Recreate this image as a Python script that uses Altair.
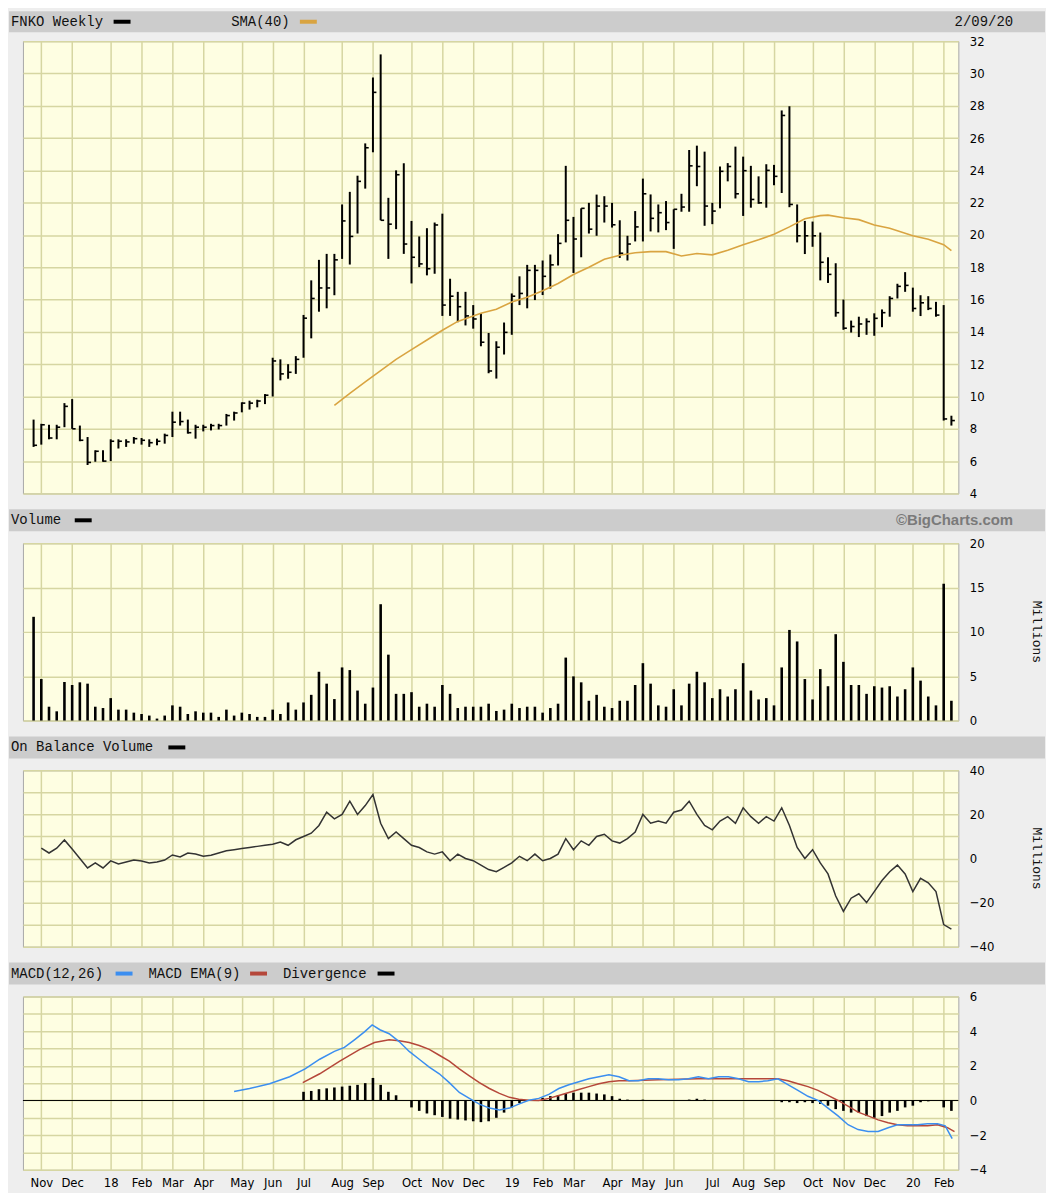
import altair as alt
import pandas as pd

# ---------------- data (weekly bars, index 0 = first week shown) ----------------
high = [8.57, 8.31, 8.25, 8.25, 9.59, 9.84, 8.20, 7.49, 6.67, 6.67,
        7.35, 7.35, 7.35, 7.49, 7.43, 7.35, 7.39, 7.70, 9.06, 9.06,
        8.57, 8.25, 8.25, 8.31, 8.31, 8.92, 9.06, 9.64, 9.74, 9.80,
        10.15, 12.4, 12.3, 12.0, 12.5, 15.05, 17.19, 18.46, 18.83, 18.83,
        21.89, 22.67, 23.67, 25.67, 29.75, 31.18, 22.30, 24.00, 24.44, 20.87,
        19.91, 20.42, 20.77, 21.32, 17.29, 16.48, 16.48, 15.66, 15.15, 13.93,
        13.42, 14.58, 16.38, 17.44, 18.15, 18.15, 18.42, 18.79, 20.05, 24.28,
        21.12, 21.65, 21.99, 22.50, 22.40, 21.99, 20.91, 19.95, 21.48, 23.49,
        22.51, 21.89, 22.10, 21.59, 22.55, 25.26, 25.53, 25.16, 21.99, 24.24,
        24.45, 25.47, 24.85, 24.28, 23.63, 24.38, 24.34, 27.71, 27.97, 21.89,
        20.87, 20.83, 20.15, 18.62, 18.25, 16.00, 14.70, 14.94, 14.84, 15.15,
        15.39, 16.21, 16.98, 17.70, 16.74, 16.27, 16.21, 15.86, 15.66, 8.81]
low = [6.88, 7.02, 7.35, 7.35, 8.10, 8.00, 7.23, 5.76, 5.96, 5.96,
       6.00, 6.78, 6.88, 7.08, 7.02, 6.88, 6.98, 7.08, 7.49, 8.20,
       7.70, 7.39, 7.84, 7.90, 7.96, 8.20, 8.51, 9.02, 9.19, 9.33,
       9.53, 10.0, 11.0, 11.1, 11.4, 12.4, 13.6, 15.25, 15.46, 16.27,
       18.52, 18.17, 20.09, 22.87, 25.12, 20.91, 18.52, 20.36, 18.83, 17.00,
       18.01, 17.50, 17.60, 14.99, 14.99, 14.60, 14.40, 14.20, 13.11, 11.44,
       11.11, 12.60, 13.82, 15.66, 15.46, 15.97, 16.28, 16.68, 18.11, 19.54,
       17.65, 18.62, 20.09, 19.95, 20.77, 20.46, 18.58, 18.42, 19.60, 19.60,
       20.22, 20.16, 20.30, 19.14, 21.44, 21.44, 23.02, 20.57, 20.67, 21.65,
       23.32, 22.26, 21.18, 21.69, 21.93, 21.69, 23.08, 22.60, 21.72, 19.54,
       18.82, 19.27, 17.19, 17.03, 14.94, 14.13, 13.96, 13.68, 13.82, 13.76,
       14.29, 14.94, 16.07, 16.48, 15.25, 14.98, 15.35, 14.94, 8.51, 8.20]
close = [6.98, 8.25, 7.43, 8.10, 9.39, 8.00, 7.29, 5.92, 6.61, 6.00,
         7.23, 7.23, 7.19, 7.39, 7.29, 7.14, 7.23, 7.59, 8.41, 8.45,
         7.76, 8.10, 8.10, 8.20, 8.20, 8.82, 8.98, 9.59, 9.59, 9.72,
         10.08, 12.2, 11.4, 11.5, 12.3, 14.85, 16.07, 16.72, 16.72, 18.46,
         20.87, 19.91, 23.32, 25.40, 28.83, 20.91, 20.67, 23.73, 19.44, 18.62,
         18.21, 17.91, 20.62, 15.66, 16.21, 15.56, 14.99, 14.80, 13.36, 11.58,
         13.05, 13.97, 16.21, 16.38, 17.81, 17.81, 17.44, 18.15, 19.48, 20.91,
         19.75, 21.65, 20.36, 21.79, 21.79, 20.63, 18.87, 19.44, 20.50, 22.55,
         21.03, 21.38, 20.77, 21.59, 21.73, 24.28, 24.24, 21.79, 21.48, 23.94,
         24.24, 22.55, 23.98, 22.20, 21.99, 24.00, 23.63, 27.40, 21.89, 19.95,
         19.95, 19.95, 18.31, 17.56, 15.19, 14.23, 14.33, 14.49, 14.64, 14.84,
         15.19, 16.07, 16.82, 16.88, 15.45, 15.80, 15.45, 15.04, 8.61, 8.51]
volume = [11.7, 4.68, 1.56, 1.04, 4.35, 4.01, 4.31, 4.16, 1.56, 1.41,
          2.53, 1.23, 1.23, 0.89, 0.74, 0.56, 0.22, 0.56, 1.71, 1.56,
          0.74, 1.04, 0.89, 0.89, 0.41, 1.23, 0.56, 0.89, 0.74, 0.41,
          0.41, 1.23, 0.74, 2.04, 1.23, 2.04, 2.90, 5.50, 4.16, 2.42,
          5.99, 5.69, 3.38, 1.90, 3.72, 13.12, 7.43, 3.01, 3.01, 3.20,
          1.56, 1.90, 1.56, 4.01, 3.01, 1.41, 1.56, 1.56, 1.56, 1.90,
          1.08, 1.23, 1.90, 1.41, 1.56, 1.56, 0.89, 1.41, 1.90, 7.10,
          4.98, 4.31, 2.23, 2.90, 1.56, 1.41, 2.23, 2.23, 4.01, 6.47,
          4.16, 1.71, 1.56, 3.53, 1.71, 4.16, 5.50, 4.31, 2.53, 3.53,
          2.71, 3.53, 6.47, 3.38, 2.38, 2.53, 1.71, 5.99, 10.22, 8.92,
          4.68, 2.38, 5.80, 3.87, 9.74, 6.62, 4.01, 4.01, 3.01, 3.87,
          3.72, 3.87, 2.71, 3.53, 5.99, 4.50, 2.71, 1.71, 15.43, 2.23]
# on balance volume (line starts at the second week)
obv_x = list(range(1, 120))
obv = [4.7, 2.5, 4.7, 8.4, 4.3, 0.0, -4.3, -2.0, -4.3, -1.1,
       -2.5, -1.6, -0.7, -1.1, -2.0, -1.6, -0.7, 1.6, 0.7, 2.5,
       2.0, 1.0, 1.5, 2.5, 3.5, 4.0, 4.5, 5.0, 5.5, 6.0,
       6.5, 7.5, 6.0, 8.5, 10, 11.5, 15, 21, 18, 20,
       26, 20, 24, 29, 16, 9, 12, 9, 6, 5,
       3, 2, 3, -1, 2, 0, -1, -3, -5, -6,
       -4, -2, 1, -1, 2, -1, 0, 2, 9, 4,
       8, 6, 10, 11, 8, 7, 9, 12, 20, 16,
       17, 16, 21, 22, 26, 20, 15, 13, 17, 19,
       16, 23, 19, 16, 19, 17, 23, 15, 5, 0,
       4, -2, -7, -17, -24, -18, -16, -20, -15, -10,
       -6, -3, -7, -15, -9, -11, -15, -30, -32]

sma_x = [39, 41, 43, 45, 47, 49, 51, 53, 55, 58, 60, 62, 64, 66, 68, 70, 72, 74, 76, 78,
         80, 82, 84, 86, 88, 90, 92, 94, 96, 98, 100, 102, 103, 105, 107, 109, 111, 114, 116, 118, 119]
sma_v = [9.45, 10.2, 10.9, 11.6, 12.3, 12.9, 13.5, 14.1, 14.65, 15.15, 15.4, 15.85, 16.15, 16.55,
         17.0, 17.55, 18.0, 18.5, 18.75, 18.9, 18.97, 18.97, 18.7, 18.85, 18.77, 19.05, 19.4, 19.7,
         20.05, 20.5, 21.0, 21.2, 21.23, 21.07, 20.95, 20.62, 20.42, 19.95, 19.74, 19.4, 19.03]

macd_x = [26, 28, 30.6, 33.2, 35.2, 37.1, 39, 40.3, 41.6, 42.9, 43.9, 44.9, 46.1, 47.4, 48.7, 50,
          51.3, 52.6, 53.9, 55.2, 56.5, 57.8, 59.1, 60.4, 61.7, 62.9, 64.2, 65.5, 66.8, 68.1, 69.4,
          70.7, 72, 73.3, 74.6, 75.9, 77.2, 78.4, 79.7, 81, 82.3, 83.6, 84.9, 86.2, 87.5, 88.8,
          90.1, 91.4, 92.7, 94, 95.2, 96.5, 97.8, 99.1, 100.4, 101.7, 103, 104.3, 105.6, 106.9,
          108.2, 109.5, 110.8, 112, 113.3, 114.6, 115.9, 117.2, 118.2, 119.1]
macd_v = [0.52, 0.69, 0.97, 1.37, 1.82, 2.38, 2.83, 3.06, 3.5, 3.96, 4.36, 4.08, 3.85, 3.4, 2.83,
          2.38, 1.93, 1.54, 1.03, 0.46, 0.12, -0.21, -0.44, -0.55, -0.44, -0.21, 0.01, 0.12, 0.35,
          0.69, 0.91, 1.08, 1.25, 1.37, 1.48, 1.37, 1.14, 1.14, 1.25, 1.25, 1.2, 1.2, 1.25, 1.37,
          1.25, 1.37, 1.37, 1.25, 1.08, 1.08, 1.14, 1.25, 0.91, 0.58, 0.24, 0.01, -0.44, -0.89,
          -1.4, -1.68, -1.79, -1.79, -1.57, -1.4, -1.4, -1.4, -1.34, -1.34, -1.46, -2.2]
ema_x = [34.9, 37.1, 39.7, 42.3, 44.2, 46.1, 47.4, 48.7, 50, 51.3, 52.6, 53.9, 55.2, 56.5, 57.8,
         59.1, 60.4, 61.7, 62.9, 64.2, 65.5, 66.8, 68.1, 69.4, 70.7, 72, 73.3, 74.6, 75.9, 77.2,
         81, 86.2, 91.4, 96.5, 97.8, 99.1, 100.4, 101.7, 103, 104.3, 105.6, 106.9, 108.2, 109.5,
         110.8, 112, 113.3, 114.6, 115.9, 117.2, 118.5, 119.4]
ema_v = [1.03, 1.54, 2.27, 2.95, 3.34, 3.5, 3.45, 3.34, 3.17, 2.95, 2.61, 2.27, 1.82, 1.42, 1.03,
         0.69, 0.41, 0.18, 0.07, 0.01, 0.0, 0.12, 0.29, 0.46, 0.63, 0.8, 0.97, 1.08, 1.14, 1.14,
         1.2, 1.25, 1.25, 1.25, 1.14, 0.97, 0.8, 0.58, 0.29, 0.0, -0.33, -0.67, -0.89, -1.12,
         -1.29, -1.4, -1.46, -1.46, -1.46, -1.4, -1.57, -1.8]
div_x = list(range(35, 120))
div_v = [0.5, 0.55, 0.65, 0.7, 0.75, 0.8, 0.85, 0.9, 1.0, 1.3, 0.9, 0.5, 0.3, 0.0, -0.4,
         -0.6, -0.75, -0.85, -0.95, -1.05, -1.1, -1.15, -1.2, -1.25, -1.2, -1.0, -0.7, -0.4, -0.15, 0.0,
         0.05, 0.15, 0.25, 0.3, 0.4, 0.45, 0.45, 0.45, 0.4, 0.35, 0.25, 0.1, 0.05, 0.0, 0.05,
         0.0, 0.0, 0.0, 0.0, 0.0, 0.05, 0.1, 0.05, 0.0, 0.0, 0.0, 0.0, 0.0, 0.0, 0.0,
         0.0, 0.0, -0.1, -0.1, -0.15, -0.1, -0.15, -0.2, -0.3, -0.5, -0.6, -0.7, -0.7, -0.9, -1.0,
         -0.9, -0.7, -0.6, -0.4, -0.3, -0.1, -0.05, 0.0, -0.4, -0.6]

month_x = [1, 5, 10, 14, 18, 22, 27, 31, 35, 40, 44, 49, 53, 57, 62, 66, 70, 75, 79, 83,
           88, 92, 96, 101, 105, 109, 114, 118]
month_lbl = ["Nov", "Dec", "18", "Feb", "Mar", "Apr", "May", "Jun", "Jul", "Aug", "Sep", "Oct",
             "Nov", "Dec", "19", "Feb", "Mar", "Apr", "May", "Jun", "Jul", "Aug", "Sep", "Oct",
             "Nov", "Dec", "20", "Feb"]

# ---------------- tables ----------------
n = len(close)
bars = pd.DataFrame({"i": list(range(n)), "high": high, "low": low, "close": close,
                     "vol": volume})
obvdf = pd.DataFrame({"i": obv_x, "v": obv})
sma = pd.DataFrame({"i": sma_x, "v": sma_v})
macd = pd.DataFrame({"i": macd_x, "v": macd_v})
ema = pd.DataFrame({"i": ema_x, "v": ema_v})
div = pd.DataFrame({"i": div_x, "v": div_v})
one = pd.DataFrame({"a": [0]})

W = 939
XDOM = [-1.38, 119.9]
GRID = "#d6d6a2"
LBL_FONT = "'Liberation Sans Narrow', 'DejaVu Sans Condensed', 'Liberation Sans', sans-serif"
HDR_FONT = "Liberation Mono"

lbl_arr = "[" + ",".join("'%s'" % s for s in month_lbl) + "]"
idx_arr = "[" + ",".join(str(v) for v in month_x) + "]"


def xenc(field="i", bottom=False):
    if bottom:
        ax = alt.Axis(values=month_x, tickCount=200, grid=True, gridColor=GRID, gridWidth=1.5,
                      ticks=False, domain=False, title=None, labelFont=LBL_FONT, labelFontSize=13,
                      labelColor="#000", labelPadding=7, labelAngle=0, labelOverlap=False,
                      labelBound=False, labelFlush=False,
                      labelExpr=lbl_arr + "[indexof(" + idx_arr + ", datum.value)]")
    else:
        ax = alt.Axis(values=month_x, tickCount=200, grid=True, gridColor=GRID, gridWidth=1.5,
                      labels=False, ticks=False, domain=False, title=None)
    return alt.X(field + ":Q", scale=alt.Scale(domain=XDOM, nice=False, zero=False), axis=ax)


def yaxis(values, label_every=None):
    kw = dict(orient="right", values=values, tickCount=200, format="d", grid=True,
              gridColor=GRID, gridWidth=1.5, ticks=False, domain=False, title=None,
              labelFont=LBL_FONT, labelFontSize=13, labelColor="#000", labelPadding=11,
              labelOverlap=False, labelFlush=False, labelBound=False)
    if label_every:
        kw["labelExpr"] = "datum.value %% %d == 0 ? datum.label : ''" % label_every
    return alt.Axis(**kw)


def header(items, top, bot, right_text=None, right_style=None):
    mid = (top + bot) / 2.0
    layers = [alt.Chart(one).mark_rect(color="#cccccc").encode(
        x=alt.value(-14), x2=alt.value(1026), y=alt.value(top), y2=alt.value(bot))]
    for kind, xpos, val in items:
        if kind == "t":
            layers.append(alt.Chart(one).mark_text(text=val, align="left", baseline="middle",
                                                   font=HDR_FONT, fontSize=14, color="#111")
                          .encode(x=alt.value(xpos), y=alt.value(mid)))
        else:
            layers.append(alt.Chart(one).mark_rect(color=val).encode(
                x=alt.value(xpos), x2=alt.value(xpos + 17), y=alt.value(mid - 2),
                y2=alt.value(mid + 2)))
    if right_text:
        style = dict(align="right", baseline="middle", font=HDR_FONT, fontSize=14, color="#111")
        if right_style:
            style.update(right_style)
        layers.append(alt.Chart(one).mark_text(text=right_text, **style)
                      .encode(x=alt.value(994), y=alt.value(mid)))
    return layers


def millions(h):
    return alt.Chart(one).mark_text(text="Millions", angle=90, align="center", baseline="middle",
                                    font=HDR_FONT, fontSize=13, color="#111").encode(
        x=alt.value(1018), y=alt.value(h / 2))


# ---------------- price panel ----------------
H1 = 454
ysc1 = alt.Scale(domain=[4, 32], nice=False, zero=False)
base1 = alt.Chart(bars)
hl = base1.mark_rule(color="#000", strokeWidth=2).encode(
    x=xenc(), y=alt.Y("low:Q", scale=ysc1, axis=yaxis(list(range(4, 33, 2)))), y2="high:Q")
ct = base1.transform_calculate(i2="datum.i + 0.45").mark_rule(color="#000", strokeWidth=1.6).encode(
    x="i:Q", x2="i2:Q", y=alt.Y("close:Q", scale=ysc1))
smal = alt.Chart(sma).mark_line(color="#d9a441", strokeWidth=1.6).encode(
    x="i:Q", y=alt.Y("v:Q", scale=ysc1))
p1 = alt.layer(hl, ct, smal, *header([("t", -12, "FNKO Weekly"), ("s", 91, "#000"),
                                      ("t", 209, "SMA(40)"), ("s", 278, "#d9a441")],
                                     -30, -9, right_text="2/09/20")).properties(width=W, height=H1)

# ---------------- volume panel ----------------
H2 = 178
ysc2 = alt.Scale(domain=[0, 20], nice=False)
vb = alt.Chart(bars).mark_rule(color="#000", strokeWidth=2.6).encode(
    x=xenc(), y=alt.Y("vol:Q", scale=ysc2, axis=yaxis([0, 5, 10, 15, 20])), y2=alt.datum(0))
p2 = alt.layer(vb, millions(H2), *header([("t", -12, "Volume"), ("s", 52, "#000")], -34, -12,
                                          right_text="©BigCharts.com",
                                          right_style=dict(font="Liberation Sans", fontWeight="bold",
                                                           fontSize=15, color="#7a7a7a"))
               ).properties(width=W, height=H2)

# ---------------- OBV panel ----------------
H3 = 177
ysc3 = alt.Scale(domain=[-40, 40], nice=False)
ol = alt.Chart(obvdf).mark_line(color="#333333", strokeWidth=1.5).encode(
    x=xenc(), y=alt.Y("v:Q", scale=ysc3, axis=yaxis(list(range(-40, 41, 10)), 20)))
p3 = alt.layer(ol, millions(H3), *header([("t", -12, "On Balance Volume"), ("s", 146, "#000")],
                                          -34, -12)).properties(width=W, height=H3)

# ---------------- MACD panel ----------------
H4 = 174
ysc4 = alt.Scale(domain=[-4, 6], nice=False)
zero = alt.Chart(one).mark_rule(color="#000", strokeWidth=1).encode(
    y=alt.datum(0, scale=ysc4))
dv = alt.Chart(div).mark_rule(color="#000", strokeWidth=2.6).encode(
    x=xenc(bottom=True), y=alt.Y("v:Q", scale=ysc4, axis=yaxis(list(range(-4, 7, 1)), 2)),
    y2=alt.datum(0))
ml = alt.Chart(macd).mark_line(color="#3b8ef0", strokeWidth=1.5).encode(
    x="i:Q", y=alt.Y("v:Q", scale=ysc4))
el = alt.Chart(ema).mark_line(color="#b5473a", strokeWidth=1.5).encode(
    x="i:Q", y=alt.Y("v:Q", scale=ysc4))
p4 = alt.layer(dv, zero, el, ml, *header([("t", -12, "MACD(12,26)"), ("s", 93, "#3b8ef0"),
                                          ("t", 126, "MACD EMA(9)"), ("s", 228, "#b5473a"),
                                          ("t", 261, "Divergence"), ("s", 356, "#000")], -34, -12)
               ).properties(width=W, height=H4)

chart = alt.vconcat(p1, p2, p3, p4, spacing=50, bounds="flush").properties(
    padding=0, background="#eeeeee"
).configure_view(fill="#fefee2", stroke="#a8a8a8", strokeWidth=1)

chart.save("out.html", embed_options={"renderer": "svg", "actions": False})
